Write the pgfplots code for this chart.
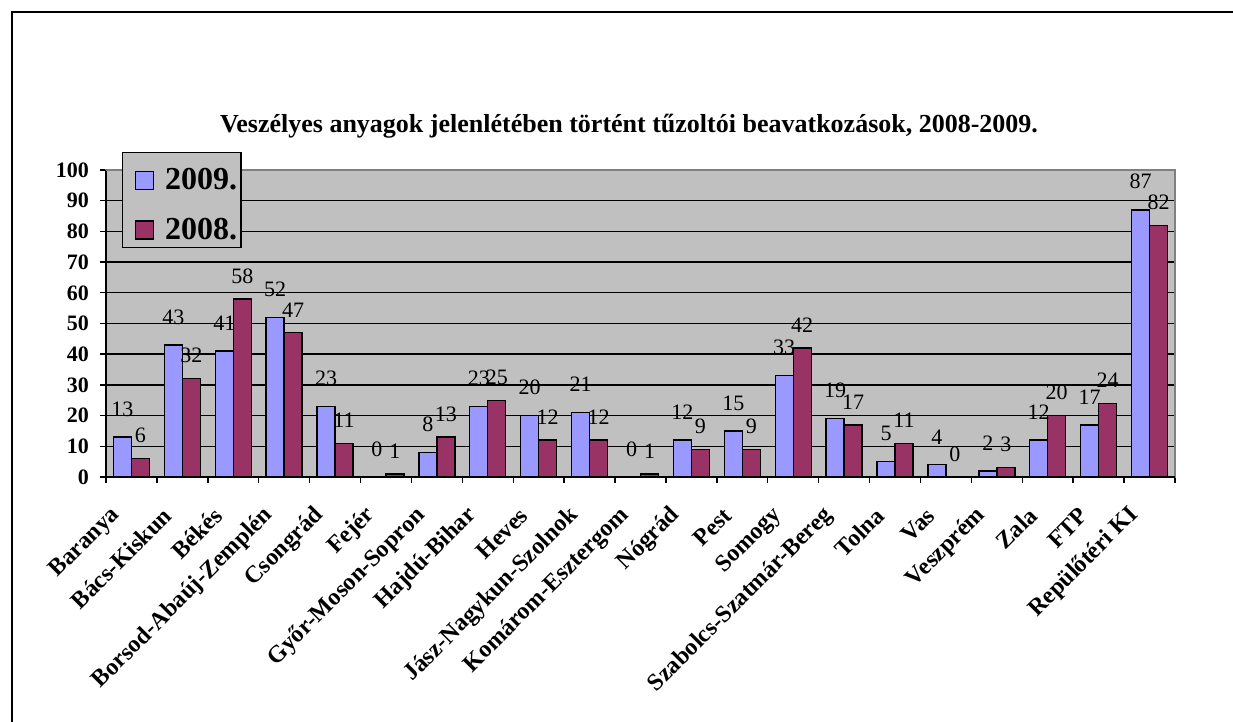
\documentclass[border=0pt]{standalone}
\usepackage{fontspec}
\setmainfont{Liberation Serif}
\usepackage{pgfplots}
\pgfplotsset{compat=1.18}
\definecolor{cA}{HTML}{9999FF}
\definecolor{cB}{HTML}{993366}
\definecolor{plotbg}{HTML}{C0C0C0}
\definecolor{bordergray}{HTML}{808080}
\begin{document}
\begin{tikzpicture}
\pgfplotsset{/pgf/number format/assume math mode=true}
\begin{axis}[
  at={(53pt,122.5pt)}, anchor=south west,
  scale only axis, width=534.5pt, height=153.5pt,
  xmin=-0.5, xmax=20.5, ymin=0, ymax=100,
  clip=false,
  axis background/.style={fill=plotbg},
  axis line style={draw=bordergray, line width=0.7pt},
  ybar=0pt, bar width=9pt,
  ytick={0,10,...,100},
  ymajorgrids, grid style={black, line width=0.7pt},
  xtick={0,...,20},
  minor xtick={-0.5,0.5,...,20.5},
  major x tick style={draw=none},
  minor x tick style={draw=black, line width=0.7pt},
  minor tick length=3pt, major tick length=3pt,
  y tick style={draw=black, line width=0.7pt},
  tick align=outside, xtick pos=bottom, ytick pos=left,
  yticklabel style={font=\bfseries\fontsize{11}{11}\selectfont, xshift=-2pt},
  xticklabel style={font=\bfseries\fontsize{12}{12}\selectfont, xshift=-5pt, yshift=-12pt, rotate=45, anchor=east},
  xticklabels={Baranya,Bács-Kiskun,Békés,Borsod-Abaúj-Zemplén,Csongrád,Fejér,Győr-Moson-Sopron,Hajdú-Bihar,Heves,Jász-Nagykun-Szolnok,Komárom-Esztergom,Nógrád,Pest,Somogy,Szabolcs-Szatmár-Bereg,Tolna,Vas,Veszprém,Zala,FTP,Repülőtéri KI},
  legend style={at={(0.015,1.0586)}, anchor=north west, fill=plotbg, draw=black, line width=0.7pt,
    font=\bfseries\fontsize{16}{16}\selectfont, inner xsep=2pt, inner ysep=4pt, row sep=10.3pt,
    nodes={text height=14.5pt, text depth=0pt, inner ysep=0pt, inner xsep=0pt},
    /tikz/every odd column/.append style={column sep=5.5pt}},
  legend cell align=left,
  legend image code/.code={\path (0pt,0pt); \draw[#1, line width=0.7pt] (4pt,-7pt) rectangle (13pt,2pt);},
]
\addplot[fill=cA, draw=black, line width=0.7pt,
  nodes near coords, every node near coord/.append style={font=\fontsize{11}{11}\selectfont, inner sep=0pt, yshift=10pt}]
  coordinates {(0,13) (1,43) (2,41) (3,52) (4,23) (5,0) (6,8) (7,23) (8,20) (9,21) (10,0) (11,12) (12,15) (13,33) (14,19) (15,5) (16,4) (17,2) (18,12) (19,17) (20,87)};
\addplot[fill=cB, draw=black, line width=0.7pt,
  nodes near coords, every node near coord/.append style={font=\fontsize{11}{11}\selectfont, inner sep=0pt, yshift=7.5pt}]
  coordinates {(0,6) (1,32) (2,58) (3,47) (4,11) (5,1) (6,13) (7,25) (8,12) (9,12) (10,1) (11,9) (12,9) (13,42) (14,17) (15,11) (16,0) (17,3) (18,20) (19,24) (20,82)};
\legend{2009.,2008.}
\draw[black, line width=0.7pt] (rel axis cs:0,1) -- (rel axis cs:0,0) -- (rel axis cs:1,0);
\draw[bordergray, line width=0.7pt] (rel axis cs:0,1) -- (rel axis cs:1,1);
\end{axis}
\node[font=\bfseries\fontsize{13}{13}\selectfont, anchor=base] at (314.5pt,294.5pt) {Veszélyes anyagok jelenlétében történt tűzoltói beavatkozások, 2008-2009.};
\draw[black, line width=1.2pt] (6pt,-5pt) -- (6pt,355pt) -- (625pt,355pt);
\pgfresetboundingbox
\useasboundingbox (0,0) rectangle (616.5pt,361pt);
\end{tikzpicture}
\end{document}
